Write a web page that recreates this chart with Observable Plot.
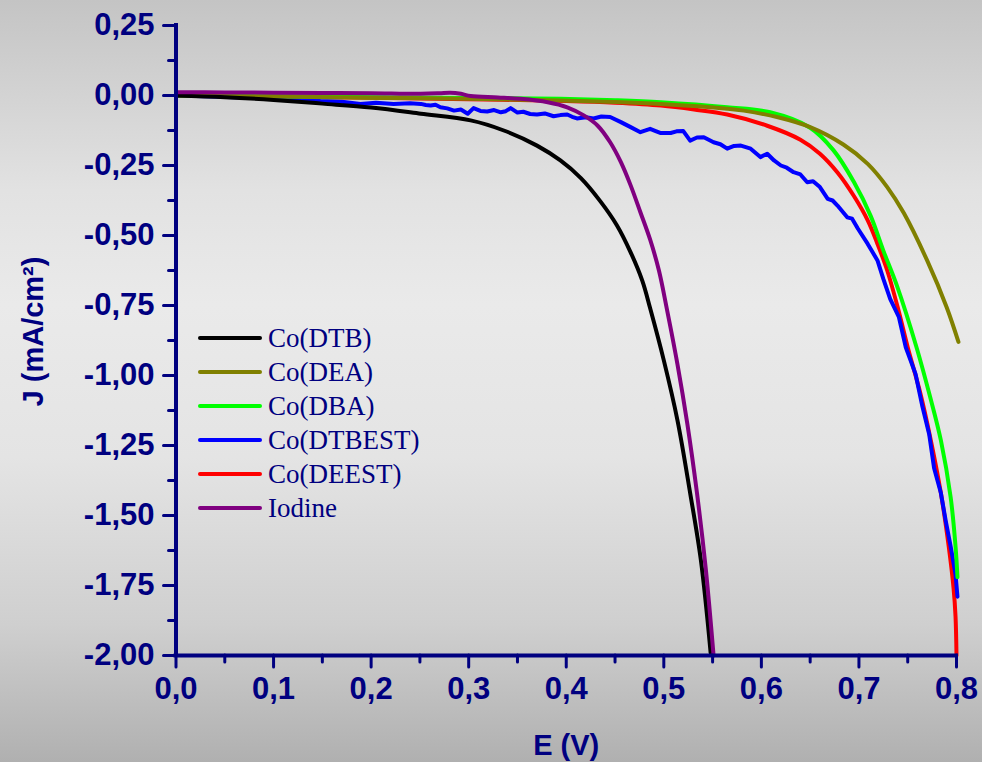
<!DOCTYPE html>
<html>
<head>
<meta charset="utf-8">
<script src="https://cdn.jsdelivr.net/npm/d3@7"></script>
<script src="https://cdn.jsdelivr.net/npm/@observablehq/plot@0.6"></script>
<style>
  html, body { margin: 0; padding: 0; }
  #wrap {
    position: relative; width: 982px; height: 762px; overflow: hidden;
    background: linear-gradient(to bottom, #c4c4c4 0%, #e2e2e2 25%, #eaeaea 40%, #e4e4e4 60%, #cfcfcf 82%, #b0b0b0 100%);
  }
  #legend {
    position: absolute; left: 198px; top: 321px;
    font-family: "Liberation Serif", "Times New Roman", serif; font-size: 27px; color: #000080;
  }
  #legend .row { display: flex; align-items: center; height: 34px; }
  #legend .sw { width: 64px; height: 4px; border-radius: 2px; margin-right: 6px; }
</style>
</head>
<body>
<div id="wrap"><div id="legend"></div></div>
<script>
// ---- data ----
const seriesNames = ["Co(DTB)", "Co(DEA)", "Co(DBA)", "Co(DTBEST)", "Co(DEEST)", "Iodine"];
const seriesColors = ["#000000", "#808000", "#00ff00", "#0000ff", "#ff0000", "#800080"];

const dtbE = [0, 0.05, 0.10, 0.15, 0.20, 0.251, 0.302, 0.336, 0.37, 0.394, 0.415, 0.435, 0.452, 0.466, 0.478, 0.486, 0.50, 0.514, 0.527, 0.538, 0.548];
const dtbJ = [0, -0.006, -0.016, -0.029, -0.043, -0.065, -0.089, -0.125, -0.179, -0.232, -0.295, -0.378, -0.464, -0.56, -0.662, -0.76, -0.946, -1.16, -1.42, -1.66, -1.99];

const deaE = [0, 0.1, 0.2, 0.3, 0.394, 0.45, 0.497, 0.565, 0.582, 0.616, 0.65, 0.684, 0.709, 0.729, 0.746, 0.77, 0.79, 0.802];
const deaJ = [0, -0.004, -0.008, -0.012, -0.018, -0.023, -0.03, -0.047, -0.054, -0.077, -0.113, -0.175, -0.244, -0.327, -0.42, -0.59, -0.757, -0.88];

const dbaE = [0, 0.1, 0.2, 0.3, 0.394, 0.45, 0.497, 0.565, 0.609, 0.65, 0.674, 0.695, 0.712, 0.725, 0.739, 0.759, 0.773, 0.784, 0.794, 0.799, 0.801];
const dbaJ = [0, -0.003, -0.006, -0.009, -0.012, -0.017, -0.024, -0.042, -0.06, -0.115, -0.196, -0.31, -0.43, -0.554, -0.68, -0.899, -1.077, -1.232, -1.435, -1.61, -1.72];

const dtbestE = [0, 0.03, 0.06, 0.09, 0.12, 0.148, 0.17, 0.189, 0.205, 0.223, 0.24, 0.251, 0.256, 0.261, 0.266, 0.271, 0.278, 0.285, 0.292, 0.299, 0.305, 0.312, 0.319, 0.326, 0.333, 0.338, 0.343, 0.35, 0.356, 0.363, 0.37, 0.378, 0.387, 0.394, 0.401, 0.406, 0.411, 0.42, 0.428, 0.436, 0.445, 0.456, 0.466, 0.476, 0.486, 0.491, 0.497, 0.507, 0.513, 0.52, 0.527, 0.534, 0.541, 0.551, 0.558, 0.565, 0.572, 0.579, 0.589, 0.599, 0.606, 0.613, 0.62, 0.626, 0.633, 0.64, 0.647, 0.653, 0.66, 0.668, 0.673, 0.678, 0.688, 0.693, 0.699, 0.709, 0.719, 0.725, 0.732, 0.741, 0.748, 0.758, 0.765, 0.772, 0.777, 0.784, 0.789, 0.794, 0.799, 0.801];
const dtbestJ = [0, -0.003, -0.006, -0.008, -0.012, -0.02, -0.022, -0.03, -0.026, -0.03, -0.028, -0.03, -0.034, -0.036, -0.033, -0.042, -0.046, -0.054, -0.05, -0.065, -0.045, -0.055, -0.057, -0.052, -0.06, -0.056, -0.045, -0.061, -0.058, -0.066, -0.068, -0.064, -0.074, -0.07, -0.068, -0.076, -0.082, -0.078, -0.082, -0.075, -0.077, -0.095, -0.113, -0.131, -0.119, -0.126, -0.134, -0.134, -0.128, -0.127, -0.161, -0.15, -0.149, -0.167, -0.174, -0.19, -0.18, -0.179, -0.19, -0.22, -0.208, -0.232, -0.25, -0.258, -0.274, -0.282, -0.31, -0.306, -0.327, -0.369, -0.375, -0.393, -0.435, -0.44, -0.476, -0.53, -0.589, -0.655, -0.726, -0.792, -0.899, -0.994, -1.11, -1.21, -1.33, -1.42, -1.52, -1.61, -1.71, -1.79];

const deestE = [0, 0.1, 0.2, 0.3, 0.4, 0.45, 0.497, 0.531, 0.565, 0.606, 0.64, 0.66, 0.678, 0.695, 0.709, 0.719, 0.729, 0.74, 0.75, 0.763, 0.773, 0.784, 0.792, 0.797, 0.799, 0.80];
const deestJ = [0, -0.004, -0.008, -0.013, -0.02, -0.026, -0.036, -0.05, -0.068, -0.108, -0.158, -0.208, -0.275, -0.36, -0.446, -0.53, -0.625, -0.76, -0.899, -1.064, -1.22, -1.42, -1.61, -1.76, -1.86, -2.0];

const iodE = [0, 0.05, 0.10, 0.15, 0.20, 0.251, 0.27, 0.281, 0.292, 0.302, 0.33, 0.353, 0.381, 0.401, 0.418, 0.432, 0.445, 0.456, 0.466, 0.476, 0.486, 0.495, 0.503, 0.514, 0.524, 0.534, 0.543, 0.551];
const iodJ = [0.012, 0.011, 0.010, 0.009, 0.008, 0.006, 0.008, 0.010, 0.006, -0.002, -0.007, -0.012, -0.024, -0.042, -0.071, -0.107, -0.167, -0.238, -0.321, -0.417, -0.515, -0.625, -0.76, -0.96, -1.17, -1.42, -1.69, -2.0];

const xDomain = [0, 0.8];
const yDomain = [-2, 0.25];
const xTicks = [0, 0.1, 0.2, 0.3, 0.4, 0.5, 0.6, 0.7, 0.8];
const xMinor = [0.05, 0.15, 0.25, 0.35, 0.45, 0.55, 0.65, 0.75];
const yTicks = [-2, -1.75, -1.5, -1.25, -1, -0.75, -0.5, -0.25, 0, 0.25];
const yMinor = [-1.875, -1.625, -1.375, -1.125, -0.875, -0.625, -0.375, -0.125, 0.125];
const xLabel = "E (V)";
const yLabel = "J (mA/cm²)";

// ---- build ----
const toRows = (E, J) => E.map((e, i) => ({E: e, J: J[i]}));
const navy = "#000080";
const sans = "'Liberation Sans', Arial, sans-serif";
const lineOpts = (color, curve) => ({x: "E", y: "J", stroke: color, strokeWidth: 4, curve, strokeLinejoin: "round", strokeLinecap: "round"});
const tickStyle = {stroke: navy, strokeWidth: 3, strokeLinecap: "round"};

const chart = Plot.plot({
  width: 982, height: 762,
  marginLeft: 175.5, marginRight: 26, marginTop: 25, marginBottom: 107,
  x: {domain: xDomain, ticks: xTicks, tickSize: 0, tickPadding: 21, tickFormat: d => d.toFixed(1).replace(".", ","), label: null},
  y: {domain: yDomain, ticks: yTicks, tickSize: 0, tickPadding: 21.5, tickFormat: d => d.toFixed(2).replace(".", ","), label: null},
  style: {background: "transparent", color: navy, overflow: "visible", fontSize: "31px", fontWeight: "bold", fontFamily: sans},
  marks: [
    Plot.line(toRows(deestE, deestJ), lineOpts(seriesColors[4], "catmull-rom")),
    Plot.line(toRows(dtbestE, dtbestJ), lineOpts(seriesColors[3], "linear")),
    Plot.line(toRows(dbaE, dbaJ), lineOpts(seriesColors[2], "catmull-rom")),
    Plot.line(toRows(deaE, deaJ), lineOpts(seriesColors[1], "catmull-rom")),
    Plot.line(toRows(dtbE, dtbJ), lineOpts(seriesColors[0], "catmull-rom")),
    Plot.line(toRows(iodE, iodJ), lineOpts(seriesColors[5], "catmull-rom")),
    // major / minor ticks
    Plot.ruleY(yTicks, {x1: xDomain[0], x2: xDomain[0], insetLeft: -12, ...tickStyle}),
    Plot.ruleY(yMinor, {x1: xDomain[0], x2: xDomain[0], insetLeft: -7, ...tickStyle}),
    Plot.ruleX(xTicks, {y1: yDomain[0], y2: yDomain[0], insetBottom: -12, ...tickStyle}),
    Plot.ruleX(xMinor, {y1: yDomain[0], y2: yDomain[0], insetBottom: -7, ...tickStyle}),
    // axis lines
    Plot.ruleX([xDomain[0]], {stroke: navy, strokeWidth: 4, strokeLinecap: "square"}),
    Plot.ruleY([yDomain[0]], {stroke: navy, strokeWidth: 4, strokeLinecap: "square"}),
    // axis titles
    Plot.text([xLabel], {frameAnchor: "bottom", textAnchor: "middle", dy: 99, fill: navy, fontSize: 29, fontWeight: "bold", fontFamily: sans}),
    Plot.text([yLabel], {frameAnchor: "left", textAnchor: "middle", rotate: -90, dx: -142, dy: -9, fill: navy, fontSize: 29, fontWeight: "bold", fontFamily: sans})
  ]
});
document.getElementById("wrap").appendChild(chart);
chart.style.position = "absolute";
chart.style.left = "0";
chart.style.top = "0";

const legend = document.getElementById("legend");
seriesNames.forEach((name, i) => {
  const row = document.createElement("div");
  row.className = "row";
  const sw = document.createElement("div");
  sw.className = "sw";
  sw.style.background = seriesColors[i];
  const t = document.createElement("span");
  t.textContent = name;
  row.appendChild(sw);
  row.appendChild(t);
  legend.appendChild(row);
});
document.getElementById("wrap").appendChild(legend);
</script>
</body>
</html>
